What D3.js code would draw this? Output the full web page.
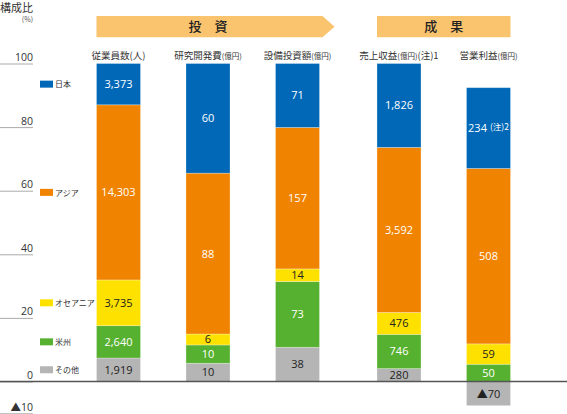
<!DOCTYPE html>
<html>
<head>
<meta charset="utf-8">
<script src="https://cdn.jsdelivr.net/npm/d3@7"></script>
<style>
  body { margin: 0; background: #fff; }
  svg { display: block; font-family: "Noto Sans CJK JP", "Noto Sans", sans-serif; }
</style>
</head>
<body>
<div id="chart"></div>
<script>
// data
const categories = ["従業員数", "研究開発費", "設備投資額", "売上収益", "営業利益"];
const units = ["(人)", "(億円)", "(億円)", "(億円)", "(億円)"];
const notes = ["", "", "", "(注)1", ""];
const groupOf = ["投資", "投資", "投資", "成果", "成果"];
const groups = ["投資", "成果"];
const regions = ["日本", "アジア", "オセアニア", "米州", "その他"];
const japan = [3373, 60, 71, 1826, 234];
const asia = [14303, 88, 157, 3592, 508];
const oceania = [3735, 6, 14, 476, 59];
const americas = [2640, 10, 73, 746, 50];
const others = [1919, 10, 38, 280, -70];
const yTicks = [100, 80, 60, 40, 20, 0, -10];

const width = 567, height = 414;
const groupGap = 12;

const colors = {
    "日本": "#0068b7",
    "アジア": "#f08300",
    "オセアニア": "#ffe100",
    "米州": "#57b130",
    "その他": "#b5b5b5"
};
const darkText = { "オセアニア": true, "その他": true };

const seriesByRegion = {
    "日本": japan, "アジア": asia, "オセアニア": oceania, "米州": americas, "その他": others
};

// rows with raw values and shares of the absolute total
const rows = categories.map((c, i) => {
    const row = { category: c, index: i };
    const total = d3.sum(regions, r => Math.abs(seriesByRegion[r][i]));
    regions.forEach(r => {
        row[r] = seriesByRegion[r][i] / total * 100;
        row["raw_" + r] = seriesByRegion[r][i];
    });
    return row;
});

// bottom to top
const stackKeys = regions.slice().reverse();
const stacked = d3.stack()
    .keys(stackKeys)
    .offset(d3.stackOffsetDiverging)(rows);

const xScale = d3.scaleBand()
    .domain(categories)
    .range([73.75, 521.25])
    .paddingInner(0.508)
    .paddingOuter(0.254);

const xPos = c => xScale(c) + (groupOf[categories.indexOf(c)] === "成果" ? groupGap : 0);

const yScale = d3.scaleLinear()
    .domain([-10, 100])
    .range([413.3, 63.5]);

const svg = d3.select("#chart")
    .append("svg")
    .attr("width", width)
    .attr("height", height);

// y axis title
svg.append("text")
    .attr("x", 0)
    .attr("y", 12)
    .attr("font-size", 11)
    .attr("fill", "#333")
    .text("構成比");
svg.append("text")
    .attr("x", 33)
    .attr("y", 22)
    .attr("text-anchor", "end")
    .attr("font-size", 7)
    .attr("fill", "#555")
    .text("(%)");

// y axis
const yAxis = d3.axisLeft(yScale)
    .tickValues(yTicks)
    .tickSize(33)
    .tickFormat(d => d < 0 ? "▲" + (-d) : d);

const yG = svg.append("g")
    .attr("class", "axis y-axis")
    .attr("transform", "translate(33,0)")
    .call(yAxis);
yG.select(".domain").remove();
yG.selectAll(".tick line")
    .attr("stroke", "#aaa")
    .attr("stroke-width", 1);
yG.selectAll(".tick text")
    .attr("x", 0)
    .attr("dy", -3)
    .attr("font-size", 10.5)
    .attr("fill", "#333")
    .attr("font-family", "'Open Sans', 'Noto Sans CJK JP', sans-serif");

// headers
groups.forEach(g => {
    const members = categories.filter((c, i) => groupOf[i] === g);
    const x0 = xPos(members[0]);
    const x1 = xPos(members[members.length - 1]) + xScale.bandwidth();
    const y0 = 16, y1 = 37.3;
    let pts;
    if (g === "投資") {
        pts = [[x0, y0], [x1 + 3, y0], [x1 + 15, (y0 + y1) / 2], [x1 + 3, y1], [x0, y1]];
    } else {
        pts = [[x0, y0], [x1, y0], [x1, y1], [x0, y1]];
    }
    svg.append("polygon")
        .attr("points", pts.map(p => p.join(",")).join(" "))
        .attr("fill", "#fac46f");
    svg.append("text")
        .attr("x", (x0 + x1) / 2)
        .attr("y", (y0 + y1) / 2 + 4.5)
        .attr("text-anchor", "middle")
        .attr("font-size", 13)
        .attr("font-weight", 500)
        .attr("fill", "#222")
        .text(g.split("").join("　"));
});

// category labels
const catLabels = svg.append("g")
    .selectAll("text")
    .data(categories)
    .join("text")
    .attr("x", d => xPos(d) + xScale.bandwidth() / 2)
    .attr("y", 59)
    .attr("text-anchor", "middle")
    .attr("fill", "#333")
    .attr("font-size", 9.5);
catLabels.append("tspan").text(d => d);
catLabels.append("tspan")
    .attr("font-size", (d, i) => units[i] === "(人)" ? 9.5 : 7.5)
    .text((d, i) => units[i]);
catLabels.append("tspan")
    .attr("font-size", 9.5)
    .text((d, i) => notes[i]);

// bars
const layers = svg.append("g")
    .selectAll("g")
    .data(stacked)
    .join("g")
    .attr("fill", d => colors[d.key]);

layers.selectAll("rect")
    .data(d => d)
    .join("rect")
    .attr("x", d => xPos(d.data.category))
    .attr("y", d => yScale(d[1]))
    .attr("width", xScale.bandwidth())
    .attr("height", d => yScale(d[0]) - yScale(d[1]))
    .attr("stroke", "#fff")
    .attr("stroke-opacity", 0.35)
    .attr("stroke-width", 0.8);

// value labels
const fmt = d3.format(",");
layers.each(function (layer) {
    const key = layer.key;
    d3.select(this).selectAll("text")
        .data(layer)
        .join("text")
        .attr("x", d => xPos(d.data.category) + xScale.bandwidth() / 2)
        .attr("y", d => (yScale(d[0]) + yScale(d[1])) / 2 + 4)
        .attr("text-anchor", "middle")
        .attr("font-size", 11)
        .attr("font-family", "'Open Sans', 'Noto Sans CJK JP', sans-serif")
        .attr("fill", darkText[key] ? "#222" : "#fff")
        .each(function (d) {
            const v = d.data["raw_" + key];
            const t = d3.select(this);
            t.append("tspan").text(v < 0 ? "▲" + fmt(-v) : fmt(v));
            if (key === "日本" && d.data.category === "営業利益") {
                t.append("tspan")
                    .attr("font-size", 8.5)
                    .attr("dx", 3)
                    .attr("dy", -2)
                    .attr("font-family", "'Noto Sans CJK JP', sans-serif")
                    .text("(注)2");
            }
        });
});

// legend, beside the first bar's segments
const firstStack = stacked.map(s => ({ key: s.key, seg: s[0] }));
const legend = svg.append("g")
    .selectAll("g")
    .data(regions.map(r => firstStack.find(s => s.key === r)))
    .join("g")
    .attr("transform", d => `translate(40,${(yScale(d.seg[0]) + yScale(d.seg[1])) / 2})`);
legend.append("rect")
    .attr("x", 0)
    .attr("y", -3.5)
    .attr("width", 13)
    .attr("height", 7)
    .attr("fill", d => colors[d.key]);
legend.append("text")
    .attr("x", 15)
    .attr("y", 3.2)
    .attr("font-size", 8)
    .attr("fill", "#333")
    .text(d => d.key);

// zero line
svg.append("line")
    .attr("x1", 0)
    .attr("x2", width)
    .attr("y1", yScale(0))
    .attr("y2", yScale(0))
    .attr("stroke", "#555")
    .attr("stroke-width", 1.5);
</script>
</body>
</html>
